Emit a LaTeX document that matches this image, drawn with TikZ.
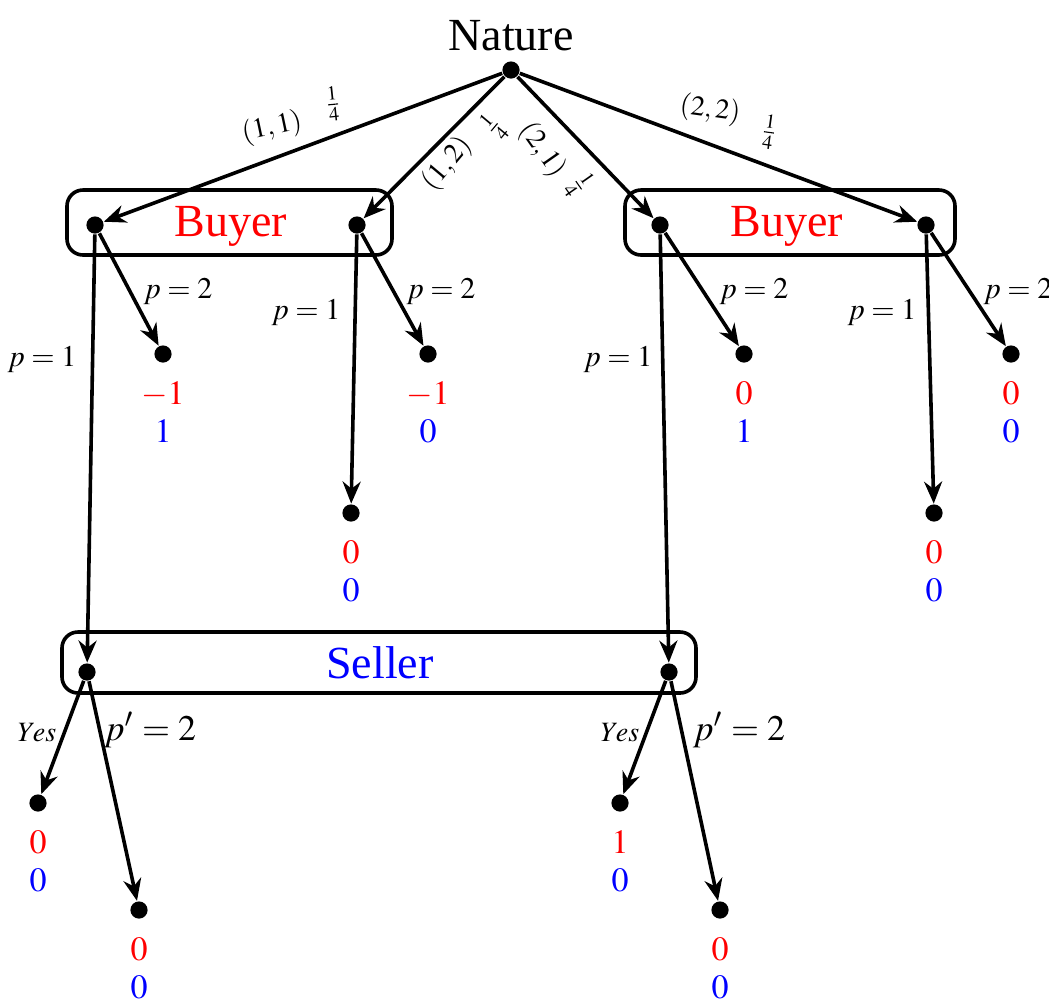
\documentclass[tikz,border=0pt]{standalone}
\usepackage{mathptmx}
\usepackage{fontspec}
\setmainfont{Liberation Serif}
\usetikzlibrary{arrows.meta,positioning}

\tikzset{
  dot/.style={circle, fill=black, inner sep=0pt, minimum size=4.3pt},
  branch/.style={-{Stealth[length=5.5pt,width=4.5pt]}, line width=0.9pt},
  infoset/.style={line width=0.9pt, rounded corners=4pt},
  player/.style={font=\fontsize{11.5}{13}\selectfont},
  payoff/.style={inner sep=0pt, align=center, font=\fontsize{8.5}{9.3}\selectfont},
  lbl/.style={inner sep=0pt, font=\fontsize{7.5}{9}\selectfont},
  nlbl/.style={inner sep=0pt, font=\fontsize{7}{8}\selectfont}
}

\begin{document}
\begin{tikzpicture}[x=0.25pt, y=-0.25pt]
  \useasboundingbox (0,0) rectangle (1049,998);

  % Zufallszug der Natur
  \node[dot] (nat) at (511,70) {};
  \node[player] (natlbl) at (511,36) {Nature};

  % Entscheidungsknoten des Kaeufers
  \node[dot] (b11) at (95,225) {};
  \node[dot] (b12) at (357,225) {};
  \node[dot] (b21) at (660,225) {};
  \node[dot] (b22) at (926,225) {};
  \draw[infoset] (67,190) rectangle (392,255);
  \draw[infoset] (625,190) rectangle (955,255);
  \node[player, red] (buy1) at (231,226) {Buyer};
  \node[player, red] (buy2) at (787,226) {Buyer};

  % Entscheidungsknoten des Verkaeufers
  \node[dot] (s1) at (87,672) {};
  \node[dot] (s2) at (669,672) {};
  \draw[infoset] (62,632) rectangle (696,693);
  \node[player, blue] (sell) at (380,663) {Seller};

  % Endknoten
  \foreach \name/\x/\y in {t1/163/354, t2/428/354, t3/351/513, t4/744/354,
                           t5/1011/354, t6/934/513, t7/38/803, t8/139/910,
                           t9/620/803, t10/720/910} {
    \node[dot] (\name) at (\x,\y) {};
  }

  % Auszahlungen (Kaeufer rot, Verkaeufer blau)
  \foreach \name/\u/\v in {t1/-1/1, t2/-1/0, t3/0/0, t4/0/1, t5/0/0,
                           t6/0/0, t7/0/0, t8/0/0, t9/1/0, t10/0/0} {
    \node[payoff, below=4.5pt of \name] (pay\name) {\textcolor{red}{$\u$}\\ \textcolor{blue}{$\v$}};
  }

  % Zuege der Natur
  \draw[branch] (nat) -- (b11);
  \draw[branch] (nat) -- (b12);
  \draw[branch] (nat) -- (b21);
  \draw[branch] (nat) -- (b22);
  \node[nlbl, rotate=12] (l11) at (272,128) {$(1,1)$};
  \node[nlbl, rotate=6] (q11) at (333,104) {$\frac{1}{4}$};
  \node[nlbl, rotate=50] (l12) at (447,164) {$(1,2)$};
  \node[nlbl, rotate=50] (q12) at (494,127) {$\frac{1}{4}$};
  \node[nlbl, rotate=-55] (l21) at (542,150) {$(2,1)$};
  \node[nlbl, rotate=-55] (q21) at (579,185) {$\frac{1}{4}$};
  \node[nlbl, rotate=-8] (l22) at (710,110) {$(2,2)$};
  \node[nlbl, rotate=-8] (q22) at (769,132) {$\frac{1}{4}$};

  % Preisangebote des Kaeufers
  \draw[branch] (b11) -- (t1);
  \draw[branch] (b11) -- (s1);
  \draw[branch] (b12) -- (t2);
  \draw[branch] (b12) -- (t3);
  \draw[branch] (b21) -- (t4);
  \draw[branch] (b21) -- (s2);
  \draw[branch] (b22) -- (t5);
  \draw[branch] (b22) -- (t6);
  \foreach \x/\y/\p in {178/292/2, 42/360/1, 306/313/1, 441/292/2,
                        618/360/1, 754/292/2, 882/313/1, 1018/292/2} {
    \node[lbl] at (\x,\y) {$p=\p$};
  }

  % Antworten des Verkaeufers
  \draw[branch] (s1) -- (t7);
  \draw[branch] (s1) -- (t8);
  \draw[branch] (s2) -- (t9);
  \draw[branch] (s2) -- (t10);
  \node[nlbl] (yes1) at (37,733) {$Yes$};
  \node[nlbl] (yes2) at (620,733) {$Yes$};
  \node[lbl, font=\fontsize{9}{10}\selectfont] (pp1) at (150,730) {$p'=2$};
  \node[lbl, font=\fontsize{9}{10}\selectfont] (pp2) at (739,730) {$p'=2$};
\end{tikzpicture}
\end{document}
